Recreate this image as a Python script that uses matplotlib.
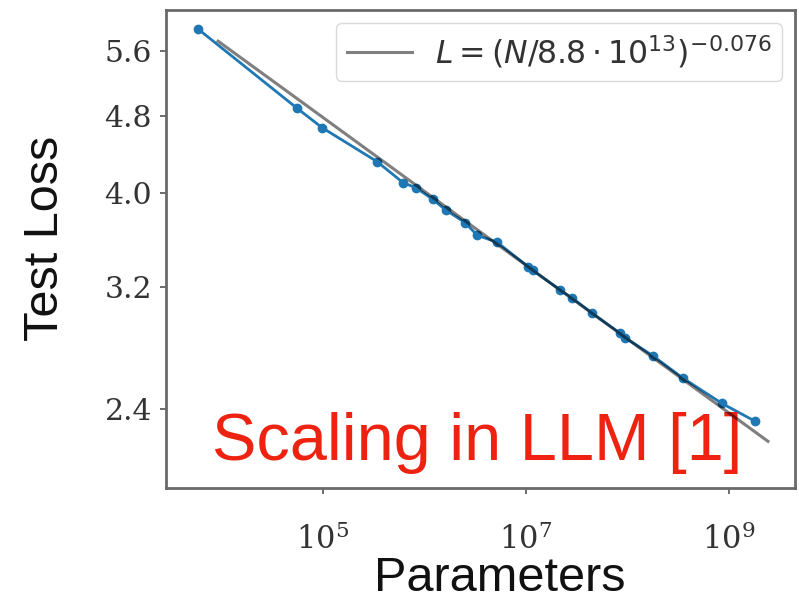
import numpy as np
import matplotlib
matplotlib.use("Agg")
import matplotlib.pyplot as plt
from matplotlib.ticker import FixedLocator, NullLocator, FixedFormatter

# Model size (parameters) and measured test loss
params = [5.87e3, 5.55e4, 9.8e4, 3.40e5, 6.14e5, 8.25e5, 1.21e6, 1.63e6,
          2.51e6, 3.29e6, 5.18e6, 1.05e7, 1.17e7, 2.16e7, 2.84e7, 4.47e7,
          8.44e7, 9.45e7, 1.78e8, 3.52e8, 8.53e8, 1.80e9]
test_loss = [5.90, 4.89, 4.67, 4.31, 4.10, 4.05, 3.94, 3.84, 3.73, 3.62,
             3.56, 3.36, 3.33, 3.18, 3.12, 3.01, 2.87, 2.84, 2.72, 2.58,
             2.43, 2.33]

# Power-law fit L = (N / Nc) ** -alpha
fit_nc = 8.8e13
fit_alpha = 0.076
fit_range = [9.25e3, 2.42e9]

y_ticks = [2.4, 3.2, 4.0, 4.8, 5.6]
y_tick_labels = ["2.4", "3.2", "4.0", "4.8", "5.6"]
x_ticks = [1e5, 1e7, 1e9]
x_tick_labels = [r"$10^5$", r"$10^7$", r"$10^9$"]

fig = plt.figure(figsize=(7.99, 6.05), dpi=100)
ax = fig.add_axes([166 / 799, 117 / 605, 629 / 799, 478 / 605])

n_fit = np.logspace(np.log10(fit_range[0]), np.log10(fit_range[1]), 200)
l_fit = (n_fit / fit_nc) ** (-fit_alpha)
ax.plot(params, test_loss, color="#1f77b4", lw=2.0, marker="o", ms=6,
        zorder=3)
ax.plot(n_fit, l_fit, color="black", alpha=0.5, lw=2.2, zorder=4,
        label=r"$L=(N/8.8\cdot10^{13})^{-0.076}$")

ax.set_xscale("log")
ax.set_yscale("log")
ax.set_xlim(10 ** 3.453, 10 ** 9.650)
ax.set_ylim(10 ** 0.2986, 10 ** 0.7904)

ax.yaxis.set_major_locator(FixedLocator(y_ticks))
ax.yaxis.set_major_formatter(FixedFormatter(y_tick_labels))
ax.yaxis.set_minor_locator(NullLocator())
ax.xaxis.set_major_locator(FixedLocator(x_ticks))
ax.xaxis.set_major_formatter(FixedFormatter(x_tick_labels))
ax.xaxis.set_minor_locator(NullLocator())

ax.tick_params(axis="both", colors="#555555", labelcolor="#333333",
               length=4, width=1.2)
ax.tick_params(axis="y", labelsize=21.5, pad=6)
ax.tick_params(axis="x", labelsize=22, pad=21)
for lab in ax.get_yticklabels():
    lab.set_family("DejaVu Serif")
for lab in ax.get_xticklabels():
    lab.set_math_fontfamily("dejavuserif")
for sp in ax.spines.values():
    sp.set_color("#6a6a6a")
    sp.set_linewidth(2.0)

ax.set_xlabel("Parameters", fontsize=35, family="Liberation Sans",
              color="#111111")
ax.xaxis.set_label_coords(0.531, -0.190)
ax.xaxis.label.set_va("center")
ax.set_ylabel("Test Loss", fontsize=35, family="Liberation Sans",
              color="#111111")
ax.yaxis.set_label_coords(-0.192, 0.523)
ax.yaxis.label.set_va("center")

leg = ax.legend(loc="upper right", fontsize=22.7, handlelength=2.06,
                handletextpad=0.73, borderpad=0.35, borderaxespad=0.4,
                frameon=True, labelcolor="#333333")
leg.get_frame().set_edgecolor("#d0d0d0")
for t in leg.get_texts():
    t.set_math_fontfamily("dejavusans")

ax.text(0.073, 0.059, "Scaling in LLM [1]", transform=ax.transAxes,
        fontsize=48, color="#ee2211", family="Liberation Sans",
        va="baseline")

fig.savefig("out.png", dpi=100)
